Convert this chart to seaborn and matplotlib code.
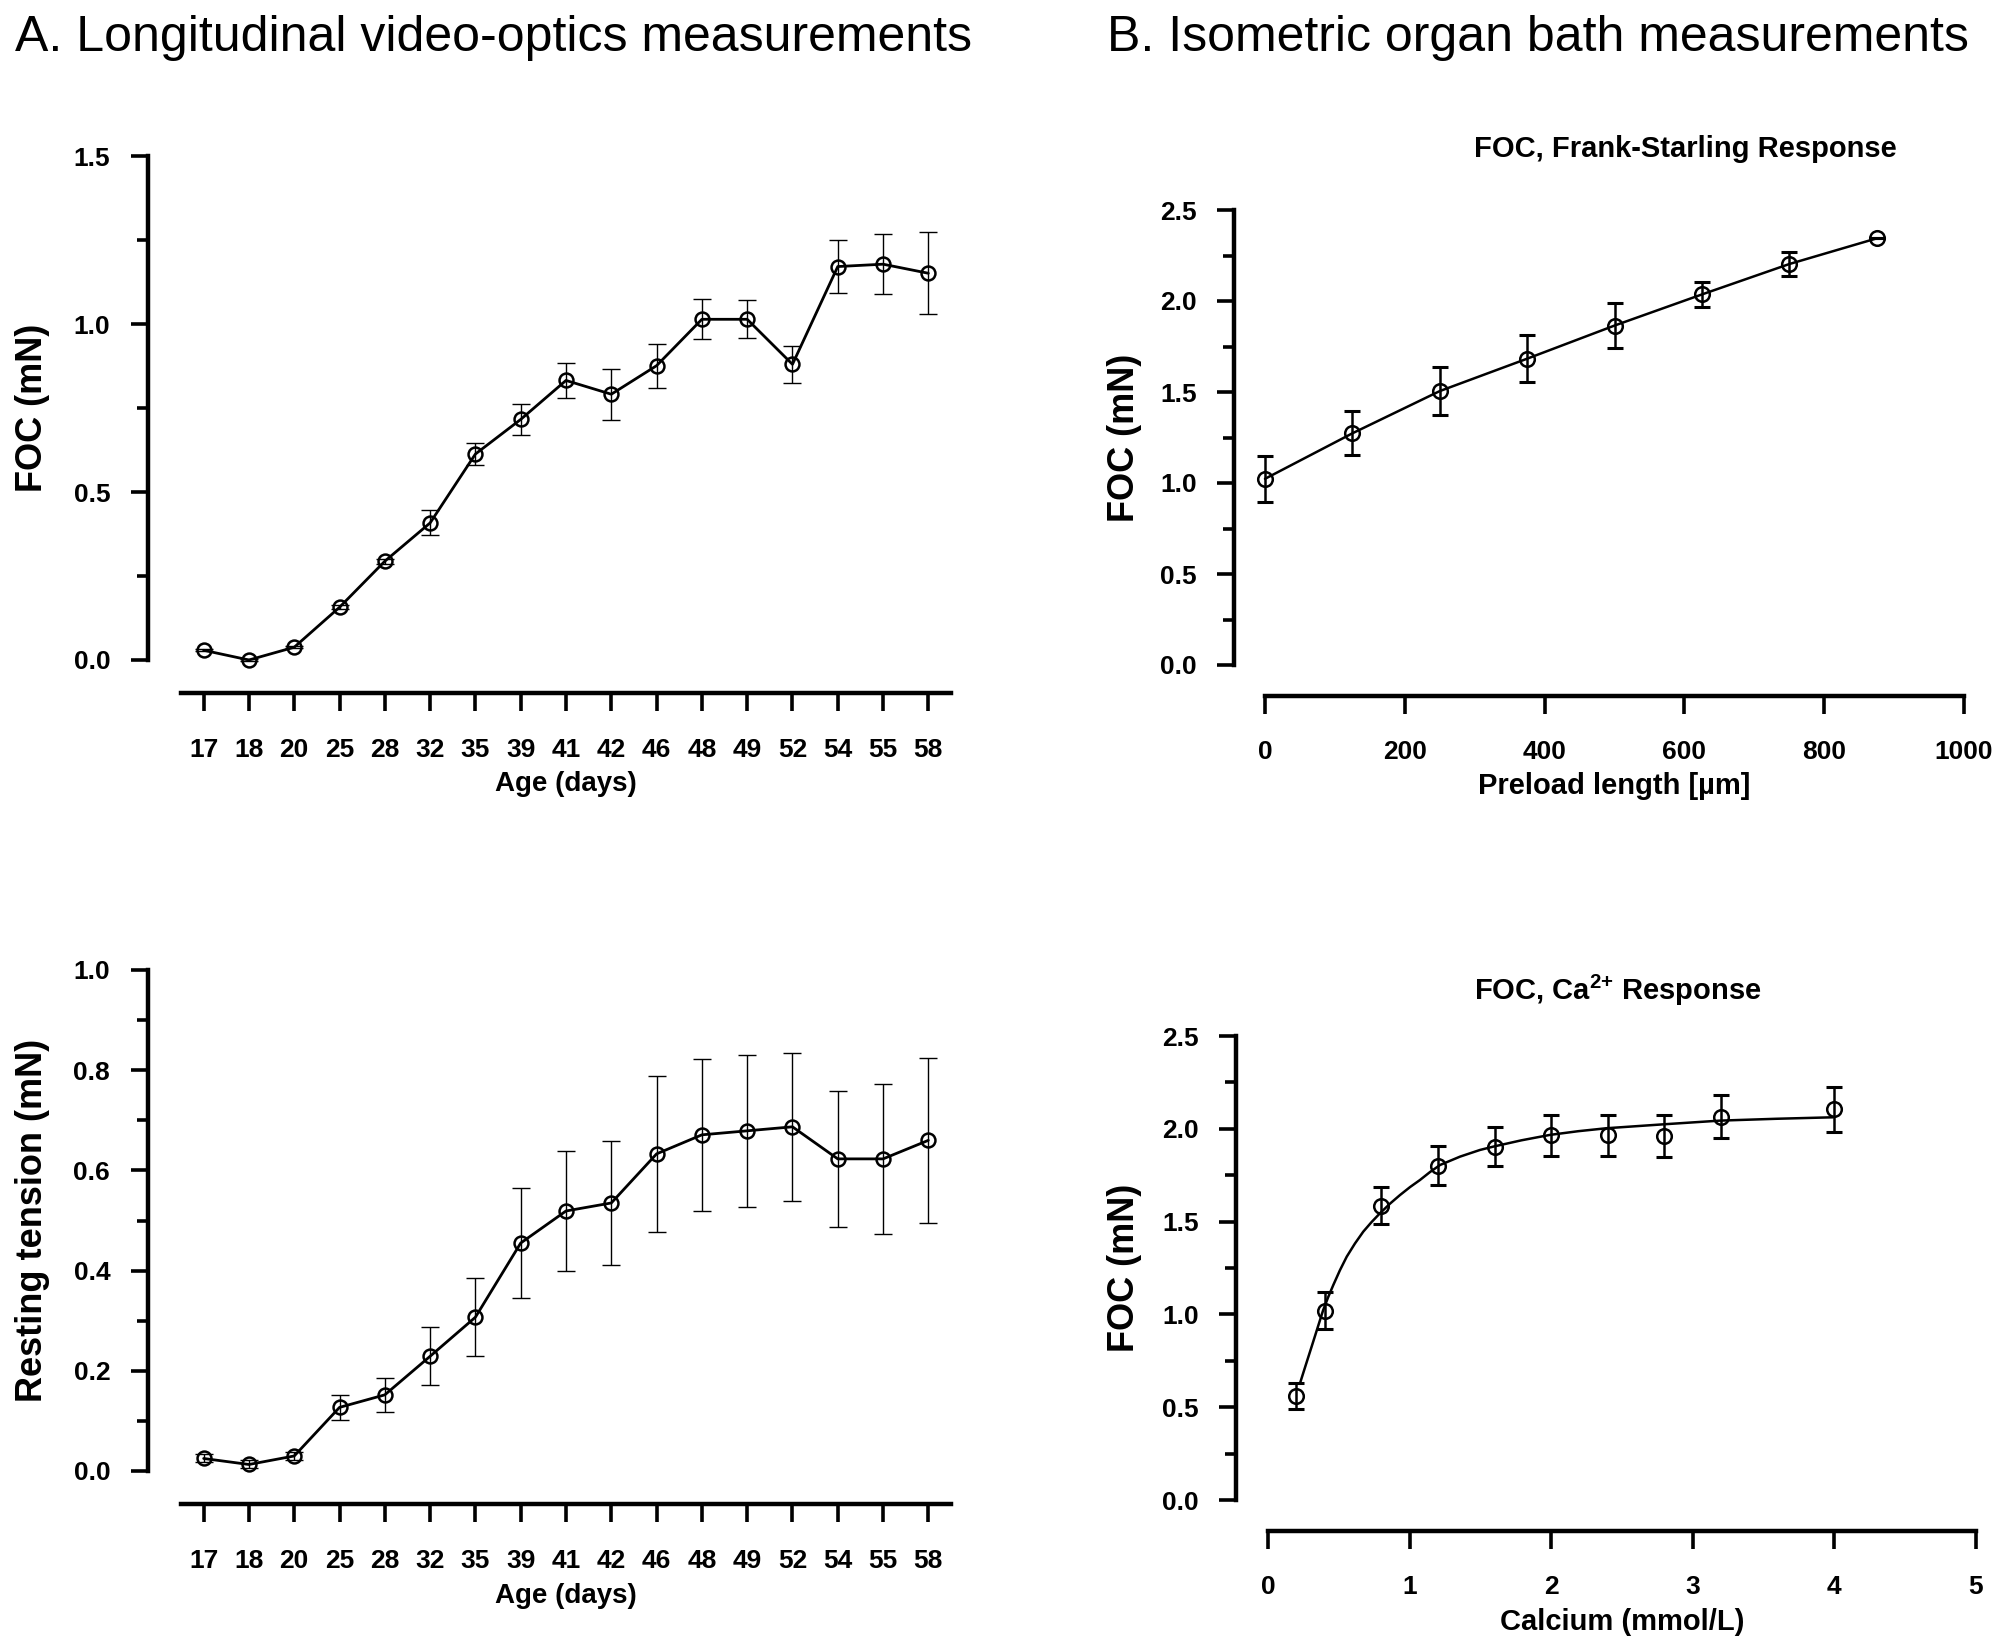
import numpy as np
import seaborn as sns
import matplotlib.pyplot as plt
from matplotlib.ticker import MultipleLocator

# longitudinal video-optics data
ages = [17, 18, 20, 25, 28, 32, 35, 39, 41, 42, 46, 48, 49, 52, 54, 55, 58]
foc_age = [0.029, 0.0, 0.038, 0.157, 0.294, 0.408, 0.613, 0.716, 0.832, 0.791,
           0.876, 1.014, 1.014, 0.880, 1.171, 1.178, 1.151]
foc_age_err = [0.003, 0.003, 0.003, 0.006, 0.008, 0.037, 0.034, 0.047, 0.052, 0.076,
               0.065, 0.060, 0.057, 0.055, 0.079, 0.089, 0.122]
rest_tension = [0.025, 0.013, 0.030, 0.127, 0.152, 0.229, 0.307, 0.455, 0.519, 0.535,
                0.633, 0.671, 0.679, 0.687, 0.623, 0.623, 0.660]
rest_err = [0.008, 0.008, 0.008, 0.025, 0.034, 0.058, 0.078, 0.110, 0.119, 0.124,
            0.156, 0.152, 0.152, 0.148, 0.135, 0.149, 0.165]

# organ bath data
preload = [0, 125, 250, 375, 500, 625, 750, 875]
foc_preload = [1.023, 1.273, 1.505, 1.683, 1.865, 2.036, 2.203, 2.344]
foc_preload_err = [0.126, 0.120, 0.133, 0.128, 0.123, 0.068, 0.064, 0.0]

calcium = [0.2, 0.4, 0.8, 1.2, 1.6, 2.0, 2.4, 2.8, 3.2, 4.0]
foc_ca = [0.56, 1.02, 1.586, 1.80, 1.904, 1.964, 1.964, 1.962, 2.064, 2.104]
foc_ca_err = [0.07, 0.10, 0.10, 0.105, 0.107, 0.11, 0.113, 0.113, 0.116, 0.12]
# fitted curve
fit_x = [0.226, 0.267, 0.308, 0.349, 0.39, 0.425, 0.461, 0.508, 0.556, 0.614, 0.673,
         0.732, 0.791, 0.862, 0.932, 1.003, 1.073, 1.144, 1.215, 1.356, 1.497, 1.591,
         1.79, 1.99, 2.19, 2.39, 2.79, 3.19, 3.59, 3.99]
fit_y = [0.629, 0.728, 0.826, 0.925, 1.024, 1.093, 1.158, 1.238, 1.311, 1.382, 1.446,
         1.498, 1.545, 1.597, 1.643, 1.686, 1.724, 1.767, 1.805, 1.85, 1.886, 1.904,
         1.938, 1.967, 1.987, 2.003, 2.024, 2.044, 2.054, 2.062]

sns.set_theme(style="ticks")
plt.rcParams["font.family"] = ["Liberation Sans", "DejaVu Sans"]
plt.rcParams["mathtext.fontset"] = "custom"
plt.rcParams["mathtext.rm"] = "Liberation Sans"
plt.rcParams["mathtext.bf"] = "Liberation Sans:bold"
for k in ["text.color", "axes.labelcolor", "xtick.color", "ytick.color", "axes.edgecolor"]:
    plt.rcParams[k] = "black"

W, H = 2000, 1648
fig = plt.figure(figsize=(20, 16.48), dpi=100)


def box(l, r, top, bot):
    return [l / W, 1 - bot / H, (r - l) / W, (bot - top) / H]


def style(ax, ymax, major, minor, off_l, off_b):
    sns.despine(ax=ax, offset={"left": off_l, "bottom": off_b})
    ax.set_ylim(0, ymax)
    ax.yaxis.set_major_locator(MultipleLocator(major))
    ax.yaxis.set_minor_locator(MultipleLocator(minor))
    ax.yaxis.set_major_formatter(plt.FormatStrFormatter("%.1f"))
    for s in ["left", "bottom"]:
        ax.spines[s].set_linewidth(3.2)
    ax.tick_params(axis="y", which="major", length=12, width=2.6, pad=15)
    ax.tick_params(axis="y", which="minor", length=8, width=2.6)
    ax.tick_params(axis="x", which="major", length=13, width=2.6, pad=19)
    ax.tick_params(labelsize=19)
    for t in ax.get_xticklabels() + ax.get_yticklabels():
        t.set_fontweight("bold")
    ax.set_facecolor("white")


def age_panel(ax, vals, errs, ylab, ymax, major, minor, ly):
    x = np.arange(len(ages))
    ax.errorbar(x, vals, yerr=errs, fmt="none", ecolor="black", elinewidth=1.0,
                capsize=6.5, capthick=1.0, clip_on=False)
    sns.lineplot(x=x, y=vals, ax=ax, color="black", linewidth=2.0, marker="o",
                 markersize=10, markerfacecolor="none", markeredgecolor="black",
                 markeredgewidth=1.8, clip_on=False)
    ax.set_xlim(-0.5, len(ages) - 0.5)
    ax.set_xticks(x)
    ax.set_xticklabels([str(a) for a in ages])
    style(ax, ymax, major, minor, 24, 24)
    ax.set_xlabel("Age (days)", fontsize=20, fontweight="bold", va="center")
    ax.xaxis.set_label_coords(0.5, ly)
    ax.set_ylabel(ylab, fontsize=26, fontweight="bold", va="center")
    ax.yaxis.set_label_coords(-0.1935, 0.5)


ax1 = fig.add_axes(box(181, 951, 156, 660))
age_panel(ax1, foc_age, foc_age_err, "FOC (mN)", 1.5, 0.5, 0.25, -0.246)

ax2 = fig.add_axes(box(181, 951, 970, 1471))
age_panel(ax2, rest_tension, rest_err, "Resting tension (mN)", 1.0, 0.2, 0.1, -0.2495)

# Frank-Starling panel
ax3 = fig.add_axes(box(1265, 1964, 210, 665))
ax3.errorbar(preload, foc_preload, yerr=foc_preload_err, fmt="none", ecolor="black",
             elinewidth=1.8, capsize=6, capthick=2.2, clip_on=False)
sns.lineplot(x=preload, y=foc_preload, ax=ax3, color="black", linewidth=1.8, marker="o",
             markersize=10.5, markerfacecolor="none", markeredgecolor="black",
             markeredgewidth=1.8, clip_on=False)
ax3.set_xlim(0, 1000)
ax3.xaxis.set_major_locator(MultipleLocator(200))
style(ax3, 2.5, 0.5, 0.25, 22, 22)
ax3.set_xlabel("Preload length [µm]", fontsize=21, fontweight="bold", va="center")
ax3.xaxis.set_label_coords(0.5, -0.266)
ax3.set_ylabel("FOC (mN)", fontsize=26, fontweight="bold", va="center")
ax3.yaxis.set_label_coords(-0.2017, 0.5)
ax3.text(0.602, 1.135, "FOC, Frank-Starling Response", transform=ax3.transAxes,
         ha="center", va="center", fontsize=21, fontweight="bold")

# calcium panel
ax4 = fig.add_axes(box(1268, 1976, 1036, 1500))
ax4.errorbar(calcium, foc_ca, yerr=foc_ca_err, fmt="none", ecolor="black",
             elinewidth=1.8, capsize=6, capthick=2.2, clip_on=False)
sns.lineplot(x=fit_x, y=fit_y, ax=ax4, color="black", linewidth=1.8)
sns.lineplot(x=calcium, y=foc_ca, ax=ax4, color="black", linestyle="none", marker="o",
             markersize=10.5, markerfacecolor="none", markeredgecolor="black",
             markeredgewidth=1.8, clip_on=False)
ax4.set_xlim(0, 5)
ax4.xaxis.set_major_locator(MultipleLocator(1))
style(ax4, 2.5, 0.5, 0.25, 23, 22)
ax4.set_xlabel("Calcium (mmol/L)", fontsize=21, fontweight="bold", va="center")
ax4.xaxis.set_label_coords(0.5, -0.263)
ax4.set_ylabel("FOC (mN)", fontsize=26, fontweight="bold", va="center")
ax4.yaxis.set_label_coords(-0.203, 0.5)
ax4.text(0.494, 1.099, r"FOC, Ca$^{\mathbf{2{+}}}$ Response", transform=ax4.transAxes,
         ha="center", va="center", fontsize=21, fontweight="bold")

fig.text(15 / W, 1 - 38 / H, "A. Longitudinal video-optics measurements",
         fontsize=36, ha="left", va="center")
fig.text(1107 / W, 1 - 38 / H, "B. Isometric organ bath measurements",
         fontsize=36, ha="left", va="center")

fig.savefig("out.png", dpi=100, facecolor="white")
